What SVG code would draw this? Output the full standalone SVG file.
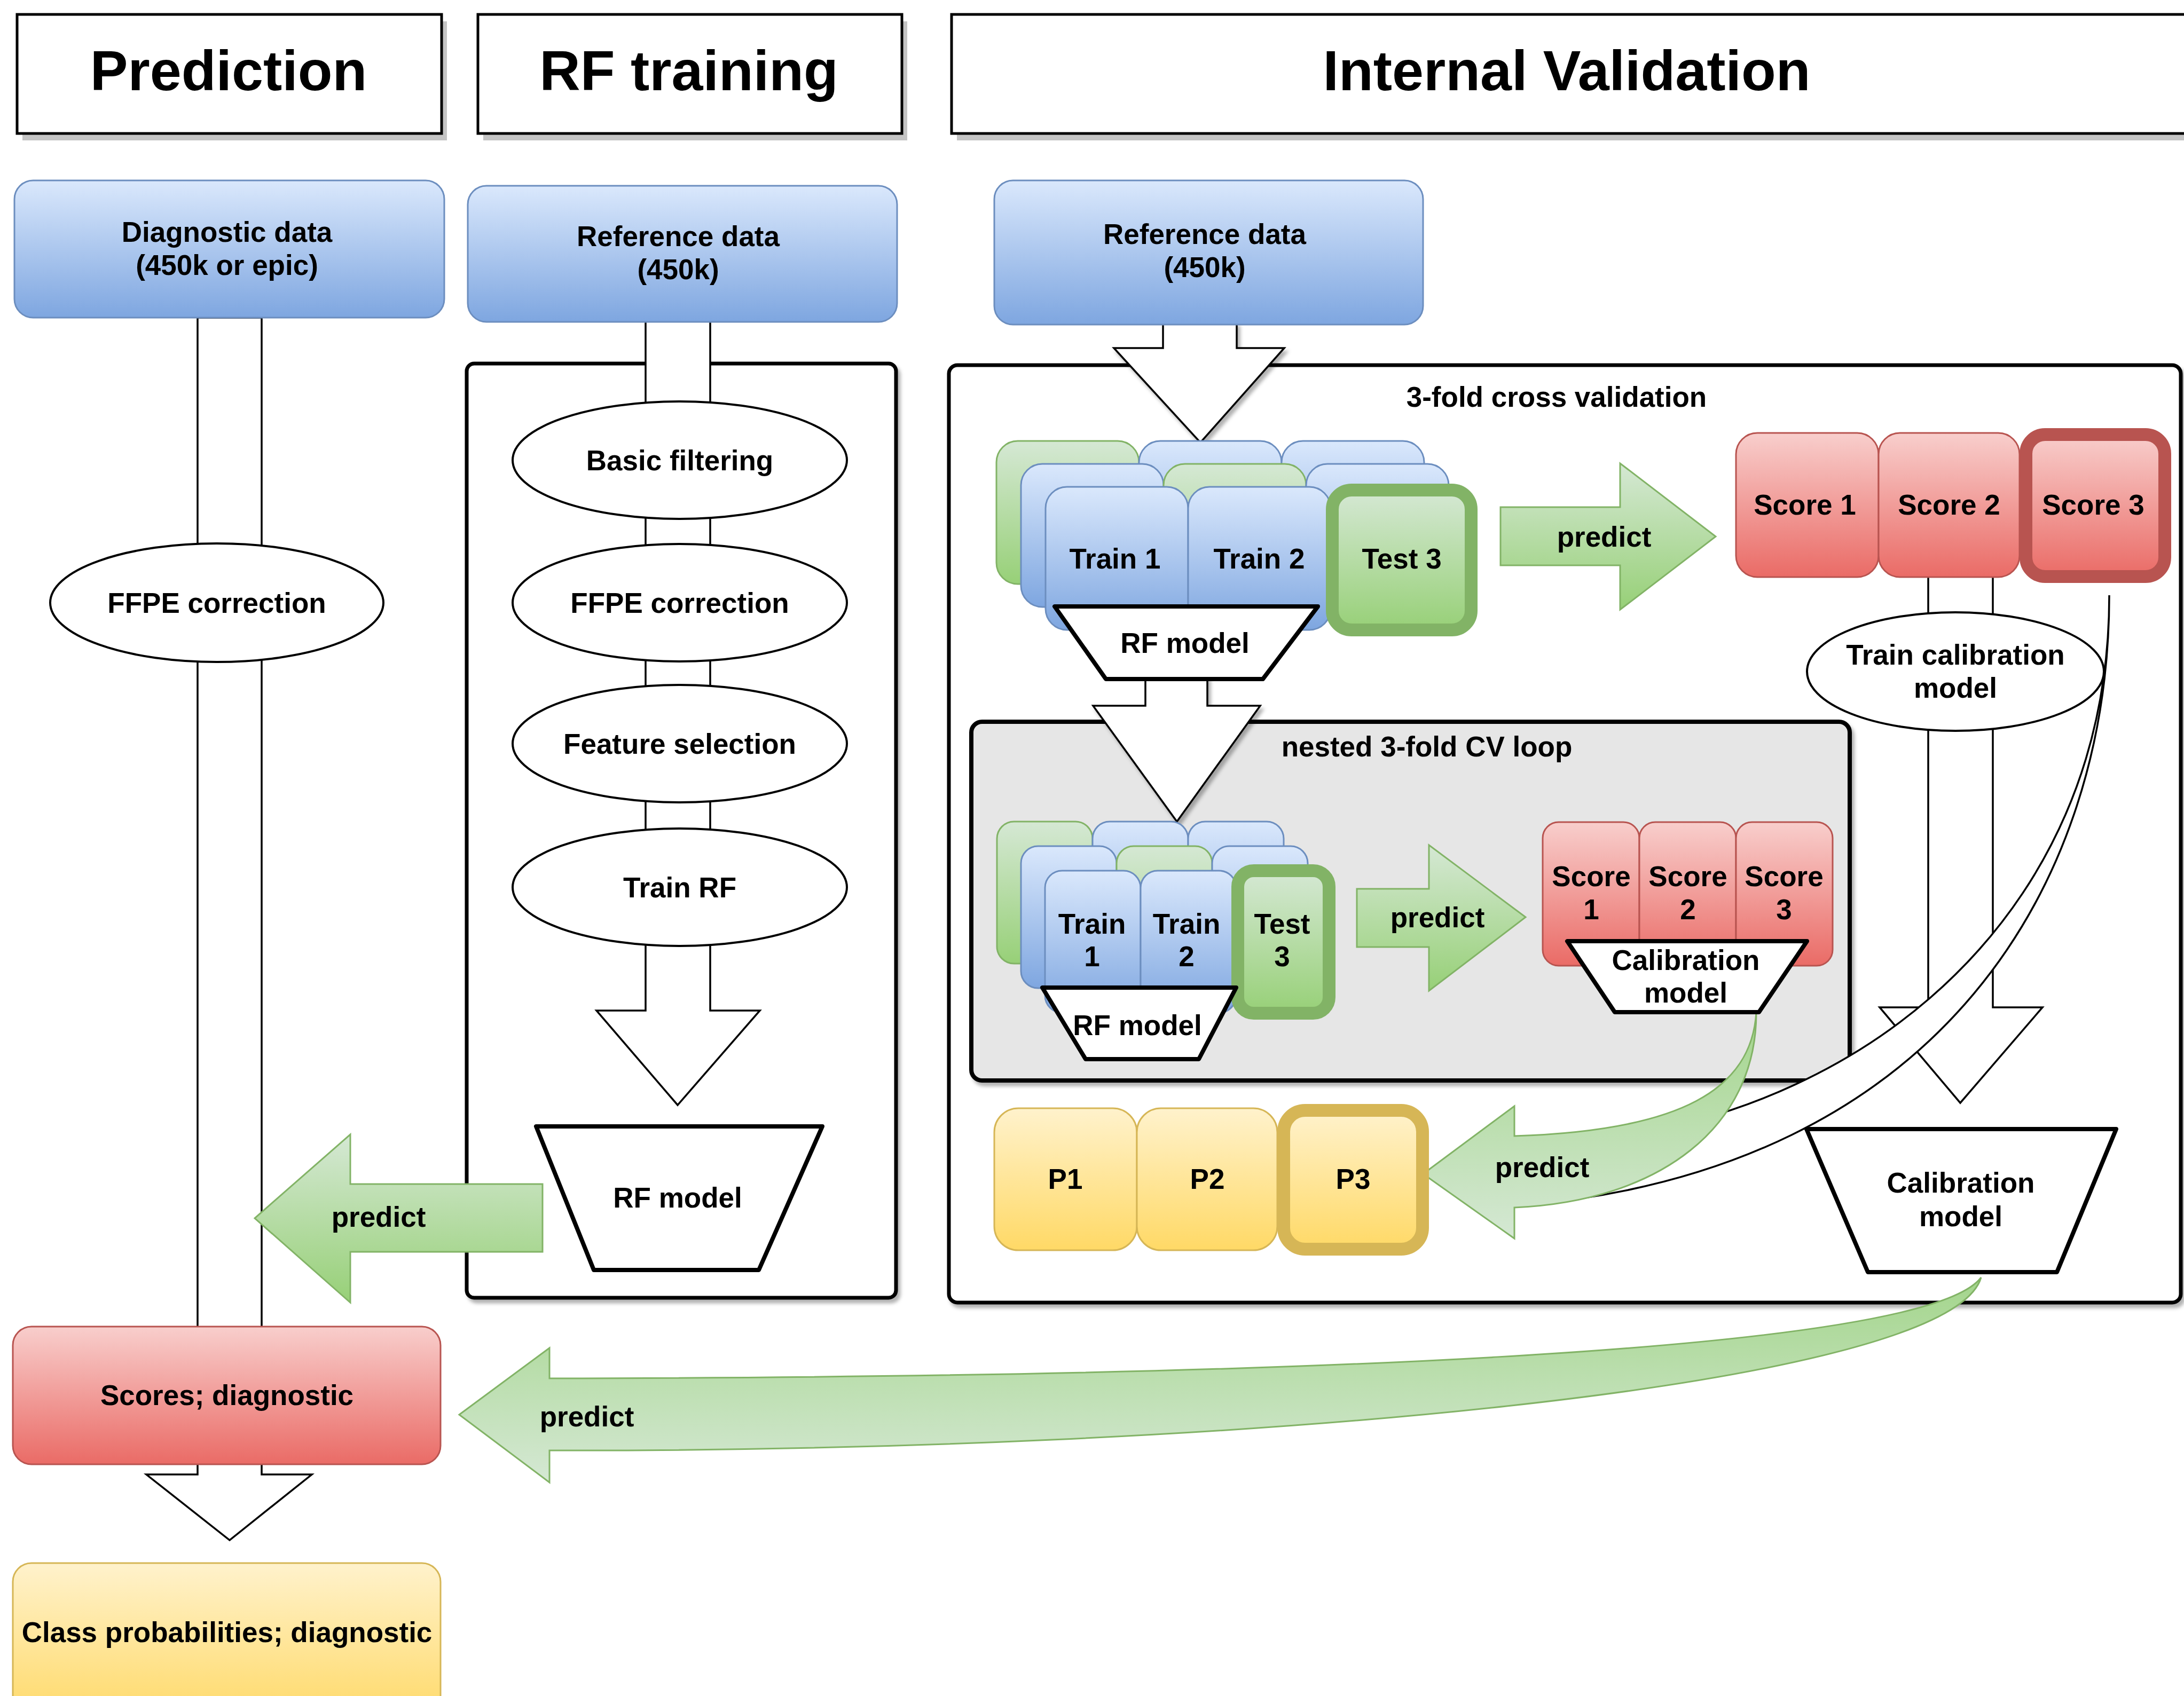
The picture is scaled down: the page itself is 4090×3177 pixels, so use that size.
<svg xmlns="http://www.w3.org/2000/svg" width="4090" height="3177" viewBox="0 0 4090 3177">
<defs>
  <linearGradient id="gBlue" x1="0" y1="0" x2="0" y2="1"><stop offset="0" stop-color="#dae8fc"/><stop offset="1" stop-color="#7ea6e0"/></linearGradient>
  <linearGradient id="gGreen" x1="0" y1="0" x2="0" y2="1"><stop offset="0" stop-color="#d5e8d4"/><stop offset="1" stop-color="#97d077"/></linearGradient>
  <linearGradient id="gGreenR" x1="0" y1="0" x2="0" y2="1"><stop offset="0" stop-color="#a3d58b"/><stop offset="1" stop-color="#d5e8d4"/></linearGradient>
  <linearGradient id="gRed" x1="0" y1="0" x2="0" y2="1"><stop offset="0" stop-color="#f8cecc"/><stop offset="1" stop-color="#ea6b66"/></linearGradient>
  <linearGradient id="gYellow" x1="0" y1="0" x2="0" y2="1"><stop offset="0" stop-color="#fff2cc"/><stop offset="1" stop-color="#ffd966"/></linearGradient>
  <filter id="ds" x="-5%" y="-5%" width="115%" height="115%">
    <feGaussianBlur in="SourceAlpha" stdDeviation="3"/>
    <feOffset dx="5" dy="7" result="o"/>
    <feFlood flood-color="#000" flood-opacity="0.3"/>
    <feComposite in2="o" operator="in"/>
    <feMerge><feMergeNode/><feMergeNode in="SourceGraphic"/></feMerge>
  </filter>
</defs>
<style>
  .t{font-family:"Liberation Sans",Arial,Helvetica,sans-serif;font-weight:bold;font-size:53px;text-anchor:middle;fill:#000}
  .title{font-size:106px}
  .hdr{fill:#fff;stroke:#000;stroke-width:5}
  .hsh{fill:#c4c4c4}
  .cont{fill:#fff;stroke:#000;stroke-width:7}
  .nest{fill:#e6e6e6;stroke:#000;stroke-width:8}
  .pipe{fill:#fff;stroke:#000;stroke-width:3.5;stroke-linejoin:miter}
  .ell{fill:#fff;stroke:#000;stroke-width:4}
  .trap{fill:#fff;stroke:#000;stroke-width:8;stroke-linejoin:round}
  .blue{fill:url(#gBlue);stroke:#6c8ebf;stroke-width:3}
  .green{fill:url(#gGreen);stroke:#82b366;stroke-width:3}
  .greenT{fill:url(#gGreen);stroke:#82b366;stroke-width:24}
  .red{fill:url(#gRed);stroke:#b85450;stroke-width:3}
  .redT{fill:url(#gRed);stroke:#b85450;stroke-width:24}
  .yel{fill:url(#gYellow);stroke:#d6b656;stroke-width:3}
  .yelT{fill:url(#gYellow);stroke:#d6b656;stroke-width:24}
  .garr{fill:url(#gGreen);stroke:#82b366;stroke-width:3}
  .garrR{fill:url(#gGreenR);stroke:#82b366;stroke-width:3}
</style>
<rect x="0" y="0" width="4090" height="3177" fill="#fff"/>

<!-- Headers -->
<g id="hdr-prediction">
  <rect class="hsh" x="42" y="40" width="795" height="223"/>
  <rect class="hdr" x="32" y="27" width="795" height="223"/>
  <text class="t title" x="428" y="169">Prediction</text>
</g>
<g id="hdr-rftraining">
  <rect class="hsh" x="905" y="40" width="794" height="223"/>
  <rect class="hdr" x="895" y="27" width="794" height="223"/>
  <text class="t title" x="1290" y="169">RF training</text>
</g>
<g id="hdr-internal">
  <rect class="hsh" x="1792" y="40" width="2330" height="223"/>
  <rect class="hdr" x="1782" y="27" width="2330" height="223"/>
  <text class="t title" x="2934" y="169">Internal Validation</text>
</g>

<!-- Containers -->
<g id="rf-container">
  <rect class="cont" x="874" y="681" width="804" height="1750" rx="14" filter="url(#ds)"/>
</g>
<g id="cv-container">
  <rect class="cont" x="1777" y="684" width="2307" height="1756" rx="16" filter="url(#ds)"/>
  <text class="t" x="2915" y="762">3-fold cross validation</text>
</g>
<g id="nested-container">
  <rect class="nest" x="1819" y="1352" width="1645" height="672" rx="20" filter="url(#ds)"/>
  <text class="t" x="2672" y="1417">nested 3-fold CV loop</text>
</g>

<!-- Connectors -->
<g id="connectors">
  <path class="pipe" d="M370 595 L370 2762 L274 2762 L430 2885 L584 2762 L490 2762 L490 595 Z"/>
  <path class="pipe" d="M1209 602 L1209 1893 L1117 1893 L1269 2070 L1423 1893 L1330 1893 L1330 602 Z"/>
  <path class="pipe" filter="url(#ds)" d="M2178 605 L2178 652 L2086 652 L2248 829 L2405 652 L2316 652 L2316 605 Z"/>
  <path class="pipe" filter="url(#ds)" d="M2145 1268 L2145 1322 L2047 1322 L2204 1539 L2360 1322 L2261 1322 L2261 1268 Z"/>
  <path class="pipe" d="M3611 1078 L3611 1887 L3520 1887 L3671 2066 L3825 1887 L3732 1887 L3732 1078 Z"/>
  <path class="pipe" d="M3950 1115 C3950 1650 3640 2190 2850 2258 L2950 2140 C3100 2125 3252 2089 3402 2012 C3700 1860 3950 1560 3950 1115 Z"/>
  <g id="predict-final">
    <path class="garr" d="M1016 2218 L656 2218 L656 2125 L477 2282 L656 2440 L656 2345 L1016 2345 Z"/>
    <text class="t" x="709" y="2298">predict</text>
  </g>
  <g id="predict-cv">
    <path class="garr" d="M2810 950 L3034 950 L3034 868 L3213 1005 L3034 1142 L3034 1059 L2810 1059 Z"/>
    <text class="t" x="3004" y="1024">predict</text>
  </g>
  <g id="predict-nested">
    <path class="garr" d="M2541 1665 L2676 1665 L2676 1583 L2857 1718 L2676 1856 L2676 1774 L2541 1774 Z"/>
    <text class="t" x="2692" y="1737">predict</text>
  </g>
  <g id="predict-p">
    <path class="garrR" d="M2665 2199 L2836 2072 L2836 2128 C3150 2118 3280 2040 3289 1896 C3290 2110 3110 2250 2836 2262 L2836 2320 Z"/>
    <text class="t" x="2888" y="2205">predict</text>
  </g>
  <g id="predict-calib">
    <path class="garrR" d="M860 2650 L1029 2525 L1029 2582 C2300 2580 3600 2540 3710 2393 C3650 2600 2300 2720 1029 2717 L1029 2777 Z"/>
    <text class="t" x="1099" y="2672">predict</text>
  </g>
</g>

<!-- Prediction column -->
<g id="diag-data">
  <rect class="blue" x="27" y="338" width="805" height="257" rx="35"/>
  <text class="t" x="425" y="453">Diagnostic data</text>
  <text class="t" x="425" y="515">(450k or epic)</text>
</g>
<g id="pred-ffpe">
  <ellipse class="ell" cx="406" cy="1129" rx="312" ry="111"/>
  <text class="t" x="406" y="1148">FFPE correction</text>
</g>
<g id="scores-diag">
  <rect class="red" x="24" y="2485" width="801" height="258" rx="35"/>
  <text class="t" x="425" y="2632">Scores; diagnostic</text>
</g>
<g id="class-prob">
  <rect class="yel" x="24" y="2928" width="801" height="300" rx="35"/>
  <text class="t" x="425" y="3076">Class probabilities; diagnostic</text>
</g>

<!-- RF training column -->
<g id="ref-data-rf">
  <rect class="blue" x="876" y="348" width="804" height="255" rx="35"/>
  <text class="t" x="1270" y="461">Reference data</text>
  <text class="t" x="1270" y="523">(450k)</text>
</g>
<g id="basic-filtering">
  <ellipse class="ell" cx="1273" cy="862" rx="313" ry="110"/>
  <text class="t" x="1273" y="881">Basic filtering</text>
</g>
<g id="rf-ffpe">
  <ellipse class="ell" cx="1273" cy="1129" rx="313" ry="110"/>
  <text class="t" x="1273" y="1148">FFPE correction</text>
</g>
<g id="feature-selection">
  <ellipse class="ell" cx="1273" cy="1393" rx="313" ry="110"/>
  <text class="t" x="1273" y="1412">Feature selection</text>
</g>
<g id="train-rf">
  <ellipse class="ell" cx="1273" cy="1662" rx="313" ry="110"/>
  <text class="t" x="1273" y="1681">Train RF</text>
</g>
<g id="rf-model-final">
  <polygon class="trap" points="1004,2110 1540,2110 1421,2379 1112,2379"/>
  <text class="t" x="1269" y="2262">RF model</text>
</g>

<!-- Internal validation -->
<g id="ref-data-iv">
  <rect class="blue" x="1862" y="338" width="803" height="270" rx="35"/>
  <text class="t" x="2256" y="457">Reference data</text>
  <text class="t" x="2256" y="519">(450k)</text>
</g>
<g id="cv-folds">
  <rect class="green" x="1866" y="826" width="267" height="268" rx="40"/>
  <rect class="blue" x="2133" y="826" width="267" height="268" rx="40"/>
  <rect class="blue" x="2400" y="826" width="267" height="268" rx="40"/>
  <rect class="blue" x="1912" y="869" width="267" height="268" rx="40"/>
  <rect class="green" x="2179" y="869" width="267" height="268" rx="40"/>
  <rect class="blue" x="2446" y="869" width="267" height="268" rx="40"/>
  <rect class="blue" x="1958" y="912" width="267" height="268" rx="40"/>
  <rect class="blue" x="2225" y="912" width="267" height="268" rx="40"/>
  <rect class="greenT" x="2495" y="918" width="260" height="262" rx="36"/>
  <text class="t" x="2088" y="1065">Train 1</text>
  <text class="t" x="2358" y="1065">Train 2</text>
  <text class="t" x="2625" y="1065">Test 3</text>
</g>
<g id="rf-model-cv">
  <polygon class="trap" points="1975,1136 2468,1136 2365,1272 2071,1272"/>
  <text class="t" x="2219" y="1223">RF model</text>
</g>
<g id="cv-scores">
  <rect class="red" x="3251" y="811" width="267" height="270" rx="40"/>
  <rect class="red" x="3518" y="811" width="264" height="270" rx="40"/>
  <rect class="redT" x="3794" y="814" width="260" height="266" rx="36"/>
  <text class="t" x="3380" y="964">Score 1</text>
  <text class="t" x="3650" y="964">Score 2</text>
  <text class="t" x="3920" y="964">Score 3</text>
</g>
<g id="train-calibration">
  <ellipse class="ell" cx="3662" cy="1258" rx="278" ry="111"/>
  <text class="t" x="3662" y="1245">Train calibration</text>
  <text class="t" x="3662" y="1307">model</text>
</g>
<g id="nested-folds">
  <rect class="green" x="1867" y="1539" width="179" height="266" rx="32"/>
  <rect class="blue" x="2046" y="1539" width="179" height="266" rx="32"/>
  <rect class="blue" x="2225" y="1539" width="179" height="266" rx="32"/>
  <rect class="blue" x="1912" y="1585" width="179" height="266" rx="32"/>
  <rect class="green" x="2091" y="1585" width="179" height="266" rx="32"/>
  <rect class="blue" x="2270" y="1585" width="179" height="266" rx="32"/>
  <rect class="blue" x="1957" y="1631" width="179" height="266" rx="32"/>
  <rect class="blue" x="2136" y="1631" width="179" height="266" rx="32"/>
  <rect class="greenT" x="2318" y="1631" width="171" height="267" rx="30"/>
  <text class="t" x="2045" y="1749">Train</text>
  <text class="t" x="2045" y="1810">1</text>
  <text class="t" x="2222" y="1749">Train</text>
  <text class="t" x="2222" y="1810">2</text>
  <text class="t" x="2401" y="1749">Test</text>
  <text class="t" x="2401" y="1810">3</text>
</g>
<g id="rf-model-nested">
  <polygon class="trap" points="1952,1850 2315,1850 2245,1984 2033,1984"/>
  <text class="t" x="2130" y="1939">RF model</text>
</g>
<g id="nested-scores">
  <rect class="red" x="2889" y="1540" width="181" height="269" rx="30"/>
  <rect class="red" x="3070" y="1540" width="181" height="269" rx="30"/>
  <rect class="red" x="3251" y="1540" width="181" height="269" rx="30"/>
  <text class="t" x="2980" y="1660">Score</text>
  <text class="t" x="2980" y="1722">1</text>
  <text class="t" x="3161" y="1660">Score</text>
  <text class="t" x="3161" y="1722">2</text>
  <text class="t" x="3341" y="1660">Score</text>
  <text class="t" x="3341" y="1722">3</text>
</g>
<g id="calib-nested">
  <polygon class="trap" points="2935,1763 3384,1763 3294,1896 3024,1896"/>
  <text class="t" x="3157" y="1817">Calibration</text>
  <text class="t" x="3157" y="1878">model</text>
</g>
<g id="p-boxes">
  <rect class="yel" x="1862" y="2076" width="267" height="266" rx="45"/>
  <rect class="yel" x="2129" y="2076" width="263" height="266" rx="45"/>
  <rect class="yelT" x="2404" y="2080" width="260" height="260" rx="40"/>
  <text class="t" x="1995" y="2227">P1</text>
  <text class="t" x="2261" y="2227">P2</text>
  <text class="t" x="2534" y="2227">P3</text>
</g>
<g id="calib-final">
  <polygon class="trap" points="3383,2115 3963,2115 3852,2383 3498,2383"/>
  <text class="t" x="3672" y="2234">Calibration</text>
  <text class="t" x="3672" y="2297">model</text>
</g>
</svg>
